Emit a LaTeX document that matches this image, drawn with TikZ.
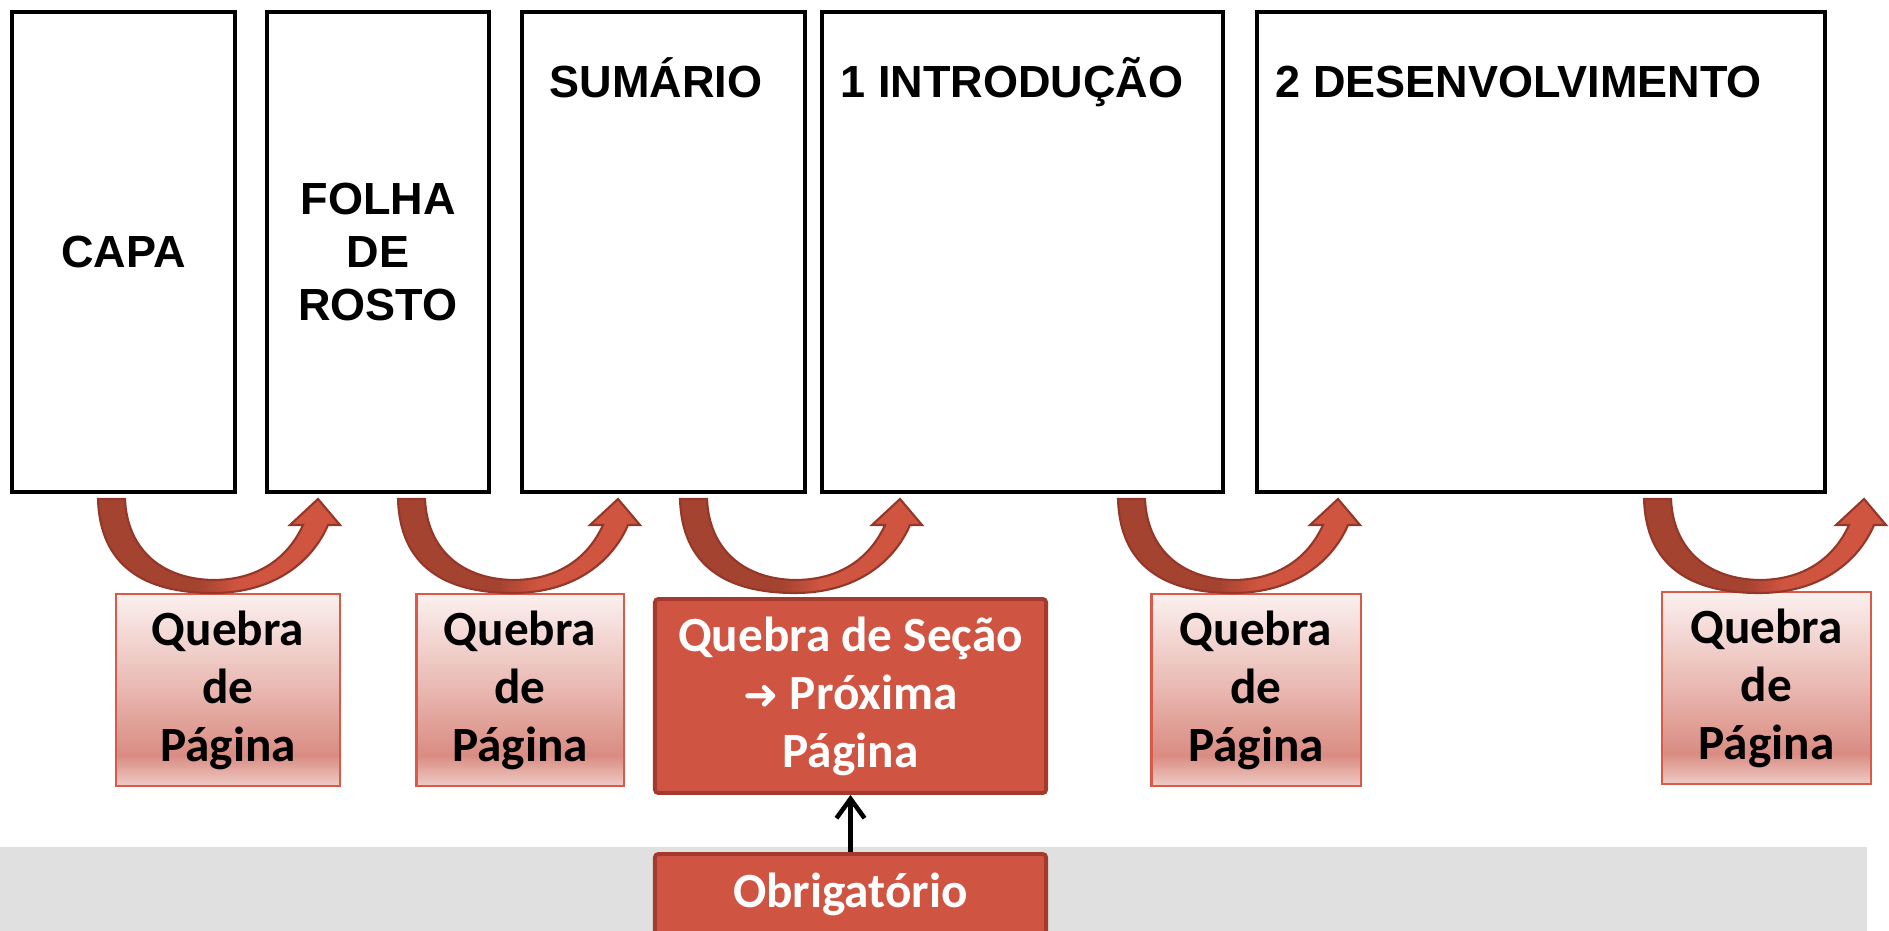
\documentclass[tikz,border=0pt]{standalone}
\usepackage{fontspec}
\setmainfont{Liberation Sans}
\newfontfamily\quebrafont{Carlito}
\newfontfamily\simbolofont{DejaVu Sans}
\usepackage{tikz}
\usetikzlibrary{arrows, arrows.meta, shapes, positioning}
\usepackage{xcolor}

\definecolor{vermelho}{HTML}{CF5441}
\definecolor{vermelhoborda}{HTML}{A23B2E}
\definecolor{rosaborda}{HTML}{D95A49}
\definecolor{rosatopo}{HTML}{FBF0EF}
\definecolor{rosameio}{HTML}{E9B7B0}
\definecolor{rosaescuro}{HTML}{D98C82}
\definecolor{rosabase}{HTML}{EFCBC6}
\definecolor{setaescura}{HTML}{A54331}
\definecolor{setaclara}{HTML}{D05540}
\definecolor{setaborda}{HTML}{943728}
\definecolor{faixa}{HTML}{E0E0E0}

\pgfdeclareverticalshading{quebrafundo}{100bp}{color(0bp)=(rosabase); color(25bp)=(rosabase); color(33bp)=(rosaescuro); color(50bp)=(rosameio); color(75bp)=(rosatopo); color(100bp)=(rosatopo)}
\pgfdeclarehorizontalshading{setafundo}{100bp}{color(0bp)=(setaescura); color(46bp)=(setaescura); color(54bp)=(setaclara); color(100bp)=(setaclara)}

% seta curva entre duas paginas
\newcommand{\setaquebra}[1]{%
  \draw[draw=setaborda, line width=0.6pt, shading=setafundo]
    (#1,499) .. controls (#1+2,565) and (#1+45,593) .. (#1+115,593)
    .. controls (#1+178,593) and (#1+215,560) .. (#1+230,525)
    -- (#1+242,525) -- (#1+220,499) -- (#1+192,525) -- (#1+205,525)
    .. controls (#1+190,558) and (#1+160,580) .. (#1+115,580)
    .. controls (#1+62,579) and (#1+29,548) .. (#1+27,499) -- cycle;}

\tikzset{
  pagina/.style={draw, line width=1.2pt, minimum height=4.80cm, inner sep=0pt, align=center,
    font=\bfseries\fontsize{12.8}{15.2}\selectfont},
  titulo/.style={anchor=base west, inner sep=0pt, font=\bfseries\fontsize{12.8}{15.2}\selectfont},
  quebra/.style={draw=rosaborda, line width=0.6pt, shading=quebrafundo, minimum height=1.92cm,
    inner sep=0pt, align=center, font=\quebrafont\bfseries\fontsize{14}{16.5}\selectfont},
  secao/.style={draw=vermelhoborda, line width=1.1pt, fill=vermelho, rounded corners=1pt,
    minimum width=3.91cm, inner sep=0pt, align=center, text=white,
    font=\quebrafont\bfseries\fontsize{14}{16.5}\selectfont}
}

\begin{document}
\begin{tikzpicture}[x=0.01cm, y=-0.01cm]

\useasboundingbox (0,0) rectangle (1889,931);
\fill[faixa] (0,847) rectangle (1867,931);

% paginas
\node[pagina, minimum width=2.23cm] (capa) at (123.5,252) {CAPA};
\node[pagina, minimum width=2.22cm] (rosto) at (378,252) {FOLHA\\DE\\ROSTO};
\node[pagina, minimum width=2.83cm] (sumario) at (663.5,252) {};
\node[pagina, minimum width=4.01cm] (intro) at (1022.5,252) {};
\node[pagina, minimum width=5.68cm] (desenv) at (1541,252) {};

\node[titulo] (sumariotxt) at (549,98) {SUMÁRIO};
\node[titulo] (introtxt) at (840,98) {1 INTRODUÇÃO};
\node[titulo] (desenvtxt) at (1275,98) {2 DESENVOLVIMENTO};

% quebras
\node[quebra, minimum width=2.24cm] (q1) at (228,690) {Quebra\\de\\Página};
\node[quebra, minimum width=2.07cm] (q2) at (520,690) {Quebra\\de\\Página};
\node[secao, minimum height=1.94cm] (secao) at (850.5,696) {Quebra de Seção\\{\simbolofont\bfseries\fontsize{12}{16.5}\selectfont ➜} Próxima\\Página};
\node[quebra, minimum width=2.09cm] (q4) at (1256,690) {Quebra\\de\\Página};
\node[quebra, minimum width=2.09cm] (q5) at (1766.5,688) {Quebra\\de\\Página};

\node[secao, minimum height=0.80cm] (obrig) at (850.5,894) {Obrigatório};

\setaquebra{98}
\setaquebra{398}
\setaquebra{680}
\setaquebra{1118}
\setaquebra{1644}

\draw[-{Straight Barb[length=5.5pt,width=8pt]}, line width=1.3pt] (obrig.north) -- (secao.south);

\end{tikzpicture}
\end{document}
